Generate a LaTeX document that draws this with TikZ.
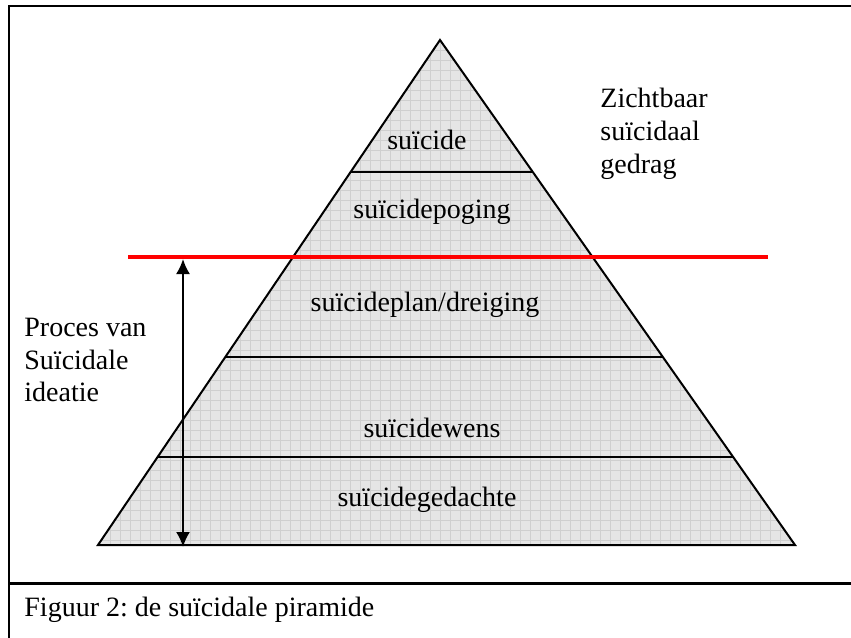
\documentclass[tikz,border=0pt]{standalone}
\usepackage{fontspec}
\setmainfont{Liberation Serif}
\usetikzlibrary{arrows.meta}
\frenchspacing
\begin{document}
\begin{tikzpicture}[x=0.5pt, y=-0.5pt]
\tikzset{laag/.style={font=\fontsize{14}{16.3}\selectfont, inner sep=0pt},
  tekst/.style={laag, align=left, anchor=north west}}
\useasboundingbox (0, 0) rectangle (851, 637);
\clip (0, 0) rectangle (851, 637);
% kader
\draw[line width=1.2pt] (9, 6) rectangle (900, 700);
\draw[line width=1.5pt] (9, 583) -- (900, 583);
% piramide
\coordinate (top) at (440, 40);
\coordinate (L) at (98, 545);
\coordinate (R) at (795, 545);
\fill[gray!20] (top) -- (L) -- (R) -- cycle;
\begin{scope}
\clip (top) -- (L) -- (R) -- cycle;
\draw[gray!38, line width=0.3pt, step=5pt] (0, 0) grid (851, 600);
\end{scope}
\draw[line width=1pt, line join=miter] (top) -- (L) -- (R) -- cycle;
\coordinate (A1) at (350.6, 172);
\coordinate (A2) at (532.8, 172);
\coordinate (B1) at (225.3, 357);
\coordinate (B2) at (662.8, 357);
\coordinate (C1) at (157.6, 457);
\coordinate (C2) at (733.0, 457);
\draw[line width=1pt] (A1) -- (A2);
\draw[line width=1pt] (B1) -- (B2);
\draw[line width=1pt] (C1) -- (C2);
\node[laag] (n1) at (427, 140) {suïcide};
\node[laag] (n2) at (432, 212) {suïcidepoging};
\node[laag] (n3) at (425, 305) {suïcideplan/dreiging};
\node[laag] (n4) at (432, 428) {suïcidewens};
\node[laag] (n5) at (427, 500) {suïcidegedachte};
% rode lijn en pijl
\coordinate (rood1) at (128, 257);
\coordinate (rood2) at (768, 257);
\draw[red, line width=2pt] (rood1) -- (rood2);
\coordinate (pijl1) at (183, 259);
\coordinate (pijl2) at (183, 547);
\draw[line width=1pt, {Latex[length=7.5pt, width=7pt]}-{Latex[length=7.5pt, width=7pt]}] (pijl1) -- (pijl2);
% teksten
\node[tekst] (zicht) at (600, 88) {Zichtbaar\\suïcidaal\\gedrag};
\node[tekst] (proces) at (24, 318) {Proces van\\Suïcidale\\ideatie};
\node[laag, anchor=west] (fig) at (24, 610) {Figuur 2: de suïcidale piramide};
\end{tikzpicture}
\end{document}
